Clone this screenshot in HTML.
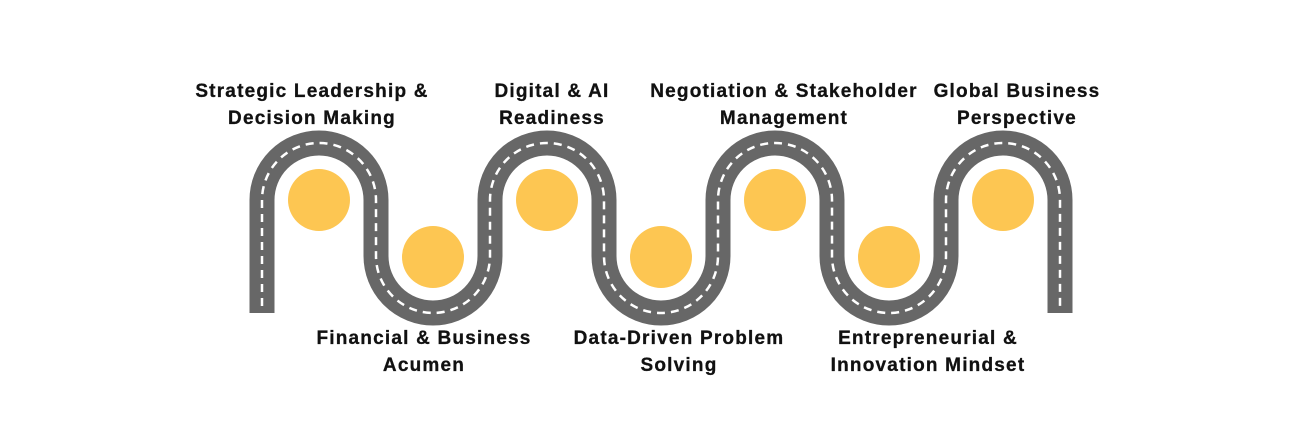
<!DOCTYPE html>
<html><head><meta charset="utf-8"><style>
html,body{margin:0;padding:0;background:#fff;}
svg{display:block}
text{font-family:"Liberation Sans",sans-serif;font-weight:bold;font-size:19px;fill:#111;text-anchor:middle;letter-spacing:1.2px;stroke:#111;stroke-width:0.3px}
</style></head><body>
<svg width="1296" height="433" viewBox="0 0 1296 433">
<path d="M262 313 V200 A57 57 0 0 1 376 200 V256 A57 57 0 0 0 490 256 V200 A57 57 0 0 1 604 200 V256 A57 57 0 0 0 718 256 V200 A57 57 0 0 1 832 200 V256 A57 57 0 0 0 946 256 V200 A57 57 0 0 1 1060 200 V313" fill="none" stroke="#676767" stroke-width="25"/>
<path d="M262 306 V200 A57 57 0 0 1 376 200 V256 A57 57 0 0 0 490 256 V200 A57 57 0 0 1 604 200 V256 A57 57 0 0 0 718 256 V200 A57 57 0 0 1 832 200 V256 A57 57 0 0 0 946 256 V200 A57 57 0 0 1 1060 200 V306" fill="none" stroke="#fff" stroke-width="2.5" stroke-dasharray="8 6"/>
<g fill="#FDC652">
<circle cx="319" cy="200" r="31"/>
<circle cx="433" cy="257" r="31"/>
<circle cx="547" cy="200" r="31"/>
<circle cx="661" cy="257" r="31"/>
<circle cx="775" cy="200" r="31"/>
<circle cx="889" cy="257" r="31"/>
<circle cx="1003" cy="200" r="31"/>
</g>
<text x="312" y="97">Strategic Leadership &amp;</text>
<text x="312" y="124">Decision Making</text>
<text x="552" y="97">Digital &amp; AI</text>
<text x="552" y="124">Readiness</text>
<text x="784" y="97">Negotiation &amp; Stakeholder</text>
<text x="784" y="124">Management</text>
<text x="1017" y="97">Global Business</text>
<text x="1017" y="124">Perspective</text>
<text x="424" y="344">Financial &amp; Business</text>
<text x="424" y="371">Acumen</text>
<text x="679" y="344">Data-Driven Problem</text>
<text x="679" y="371">Solving</text>
<text x="928" y="344">Entrepreneurial &amp;</text>
<text x="928" y="371">Innovation Mindset</text>
</svg>
</body></html>
